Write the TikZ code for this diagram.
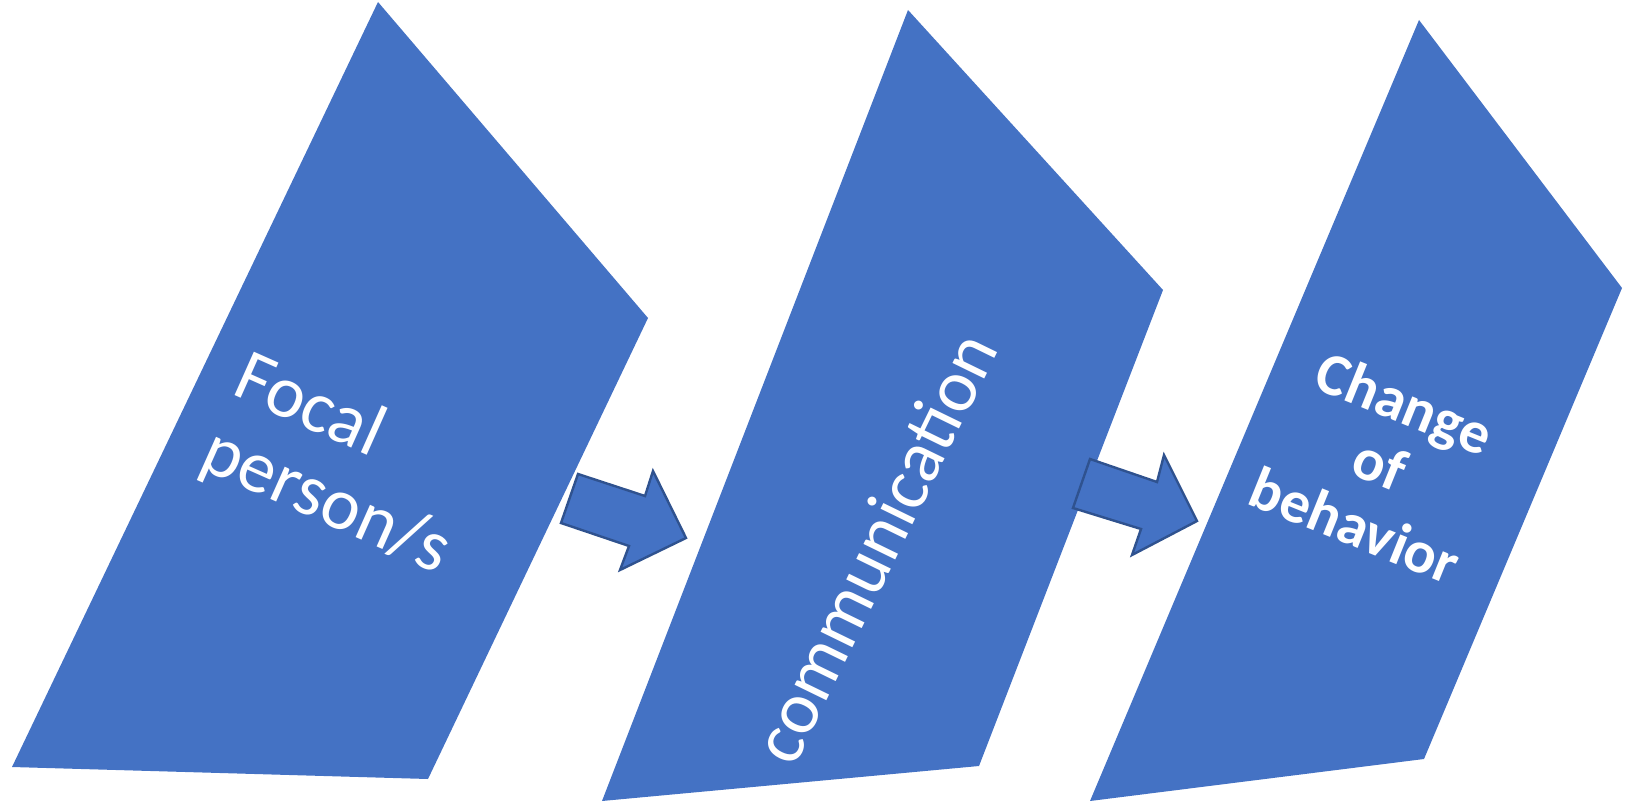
\documentclass[tikz,border=0pt]{standalone}
\usepackage{fontspec}
\setmainfont{Carlito}
\definecolor{panelblue}{HTML}{4472C4}
\definecolor{arrowedge}{HTML}{2F528F}

\begin{document}
\begin{tikzpicture}[x=0.5pt, y=-0.5pt,
    panel/.style={fill=panelblue},
    blockarrow/.style={fill=panelblue, draw=arrowedge, line width=1.2pt, line join=miter},
    steptext/.style={text=white, inner sep=0pt}]
  \useasboundingbox (0,0) rectangle (1626,802);

  % Define panels
  \fill[panel] (378,2) -- (648,318) -- (428,779) -- (12,767) -- cycle;
  \fill[panel] (908,10) -- (1163,290) -- (979,766) -- (602,801) -- cycle;
  \fill[panel] (1419,20) -- (1622,288) -- (1424,759) -- (1090,801) -- cycle;

  % Draw block arrows
  \draw[blockarrow] (578,474) -- (645,496) -- (653,471) -- (686,538)
    -- (620,570) -- (629,546) -- (561,523) -- cycle;
  \draw[blockarrow] (1090,459) -- (1157,482) -- (1164,455) -- (1197,521)
    -- (1132,555) -- (1141,529) -- (1073,508) -- cycle;

  % Labels
  \node[steptext, rotate=-24, align=left, font=\fontsize{37}{40}\selectfont]
    (focal) at (342,466) {Focal\\person/s};
  \node[steptext, rotate=64, font=\fontsize{37}{40}\selectfont]
    (comm) at (874,547) {communication};
  \node[steptext, rotate=-22, align=center, font=\bfseries\fontsize{30}{33}\selectfont]
    (change) at (1380,464) {Change\\of\\behavior};
\end{tikzpicture}
\end{document}
